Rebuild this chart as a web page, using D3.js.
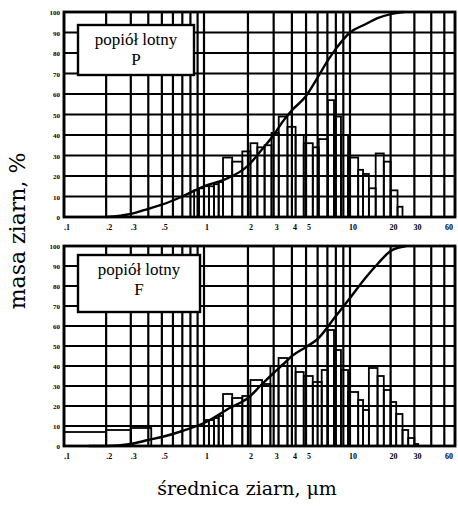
<!DOCTYPE html>
<html lang="pl">
<head>
<meta charset="UTF-8">
<title>popiół lotny</title>
<script src="https://cdn.jsdelivr.net/npm/d3@7"></script>
<style>
body{margin:0;background:#fff;}
svg text{fill:#000;}
</style>
</head>
<body>
<svg id="svg"></svg>
<script>
// x axis (grain diameter, um) - log
var xTicks = [0.1, 0.2, 0.3, 0.5, 1, 2, 3, 4, 5, 10, 20, 30, 60];
var xTickLabels = [".1", ".2", ".3", ".5", "1", "2", "3", "4", "5", "10", "20", "30", "60"];
var gridX = [0.1, 0.2, 0.3, 0.4, 0.5, 0.6, 0.7, 0.8, 0.9, 1, 2, 3, 4, 5, 6, 7, 8, 9, 10, 20, 30, 40, 50, 60];
var yTicks = [0, 10, 20, 30, 40, 50, 60, 70, 80, 90, 100];

// panel P - histogram
var edgesP = [0.85, 0.92, 1.0, 1.08, 1.17, 1.26, 1.35, 1.56, 1.83, 2.08, 2.32, 2.6, 2.9, 3.25, 3.73, 4.24, 4.82, 5.56, 6.11, 7.05, 7.77, 8.67, 9.7, 11.5, 12.5, 13.8, 15.5, 17.8, 20, 22.5, 24.5];
var valuesP = [13, 14, 15, 15, 16, 17, 29, 27, 32, 36, 34, 35, 41, 49, 44, 40, 36, 34, 38, 57, 49, 40, 29, 23, 21, 14, 31, 27, 13, 5];
// panel P - cumulative
var cumSizeP = [0.2, 0.3, 0.4, 0.5, 0.7, 1.0, 1.35, 2.0, 2.5, 3.0, 3.5, 4.0, 5.0, 6.0, 7.0, 8.0, 10, 13, 16, 20, 25];
var cumValP = [0, 1.5, 4, 6, 10, 15, 18, 25, 33, 40, 47, 52, 59, 68, 76, 82, 90, 94, 97, 99, 100];

// panel F - histogram
var edgesF = [0.1, 0.2, 0.3, 0.42, 1.0, 1.08, 1.17, 1.26, 1.35, 1.56, 1.83, 2.08, 2.5, 2.85, 3.24, 3.73, 4.24, 4.82, 5.56, 6.4, 7.05, 7.77, 8.67, 9.7, 11.5, 12.5, 13.8, 16, 17.8, 20, 22, 24.5, 27, 30, 32];
var valuesF = [7, 8, 9, 0, 13, 13, 14, 15, 26, 24, 25, 33, 31, 40, 44, 40, 37, 35, 32, 38, 58, 48, 38, 27, 23, 18, 39, 35, 28, 22, 16, 8, 4, 1];
// panel F - cumulative
var cumSizeF = [0.15, 0.2, 0.3, 0.4, 0.5, 0.7, 1.0, 1.5, 2.0, 2.5, 3.0, 3.5, 4.0, 5.0, 6.0, 8.0, 10, 13, 16, 20, 26];
var cumValF = [0, 0, 1, 3, 4.5, 7.5, 11.5, 19, 24, 31, 36.5, 41, 45, 49.5, 53.5, 65, 74, 84, 91, 97.5, 100];

var panels = [
	{name: "P", edges: edgesP, values: valuesP, cs: cumSizeP, cv: cumValP, top: 12, bottom: 217, box: [78, 25, 116, 50]},
	{name: "F", edges: edgesF, values: valuesF, cs: cumSizeF, cv: cumValF, top: 246, bottom: 446, box: [78, 255, 122, 57]}
];

var w = 458, h = 507;
var svg = d3.select("#svg").attr("width", w).attr("height", h);

var x = d3.scaleLog()
	.domain([0.1, 1, 10, 60])
	.range([64, 204, 350, 455]);

panels.forEach(function(p) {
	var y = d3.scaleLinear().domain([0, 100]).range([p.bottom, p.top]);
	var g = svg.append("g");

	// grid
	g.selectAll(".gx").data(gridX).enter().append("line")
		.attr("x1", d => x(d)).attr("x2", d => x(d))
		.attr("y1", y(0)).attr("y2", y(100))
		.attr("stroke", "#000").attr("stroke-width", 2.2);
	g.selectAll(".gy").data(yTicks).enter().append("line")
		.attr("x1", x(0.1)).attr("x2", x(60))
		.attr("y1", d => y(d)).attr("y2", d => y(d))
		.attr("stroke", "#000").attr("stroke-width", 2.2);

	// histogram bars
	var bars = p.values.map(function(v, i) {
		return {x0: p.edges[i], x1: p.edges[i + 1], v: v};
	}).filter(d => d.v > 0);
	g.selectAll(".bar").data(bars).enter().append("rect")
		.attr("x", d => x(d.x0))
		.attr("width", d => x(d.x1) - x(d.x0))
		.attr("y", d => y(d.v))
		.attr("height", d => y(0) - y(d.v))
		.attr("fill", "none")
		.attr("stroke", "#000")
		.attr("stroke-width", 1.8);

	// frame
	g.append("rect")
		.attr("x", x(0.1)).attr("y", y(100))
		.attr("width", x(60) - x(0.1)).attr("height", y(0) - y(100))
		.attr("fill", "none").attr("stroke", "#000").attr("stroke-width", 2.8);

	// cumulative curve
	var line = d3.line()
		.x(d => x(d[0]))
		.y(d => y(d[1]))
		.curve(d3.curveMonotoneX);
	g.append("path")
		.datum(p.cs.map((s, i) => [s, p.cv[i]]))
		.attr("d", line)
		.attr("fill", "none")
		.attr("stroke", "#000")
		.attr("stroke-width", 2.4);

	// label box
	var b = p.box;
	g.append("rect")
		.attr("x", b[0]).attr("y", b[1]).attr("width", b[2]).attr("height", b[3])
		.attr("fill", "#fff").attr("stroke", "#000").attr("stroke-width", 2.4);
	g.append("text")
		.attr("x", b[0] + b[2] / 2).attr("y", b[1] + 20)
		.attr("text-anchor", "middle")
		.style("font-family", "'Liberation Serif', serif")
		.style("font-size", "17px")
		.text("popiół lotny");
	g.append("text")
		.attr("x", b[0] + b[2] / 2).attr("y", b[1] + 40)
		.attr("text-anchor", "middle")
		.style("font-family", "'Liberation Serif', serif")
		.style("font-size", "17px")
		.text(p.name);

	// y tick labels
	g.selectAll(".yl").data(yTicks).enter().append("text")
		.attr("x", 60).attr("y", d => y(d) + 3)
		.attr("text-anchor", "end")
		.style("font-family", "'Liberation Serif', serif")
		.style("font-size", "7px")
		.style("font-weight", "bold")
		.text(d => d);

	// x tick labels
	g.selectAll(".xl").data(xTicks).enter().append("text")
		.attr("x", d => Math.min(x(d) + 3, 449))
		.attr("y", p.bottom + 13)
		.attr("text-anchor", "middle")
		.style("font-family", "'Liberation Serif', serif")
		.style("font-size", "8px")
		.style("font-weight", "bold")
		.text((d, i) => xTickLabels[i]);
});

// axis titles
svg.append("text")
	.attr("transform", "translate(25,231) rotate(-90)")
	.attr("text-anchor", "middle")
	.style("font-family", "'DejaVu Serif', serif")
	.style("font-size", "22px")
	.text("masa ziarn, %");

svg.append("text")
	.attr("x", 247).attr("y", 495)
	.attr("text-anchor", "middle")
	.style("font-family", "'DejaVu Serif', serif")
	.style("font-size", "19px")
	.text("średnica ziarn, μm");
</script>
</body>
</html>
